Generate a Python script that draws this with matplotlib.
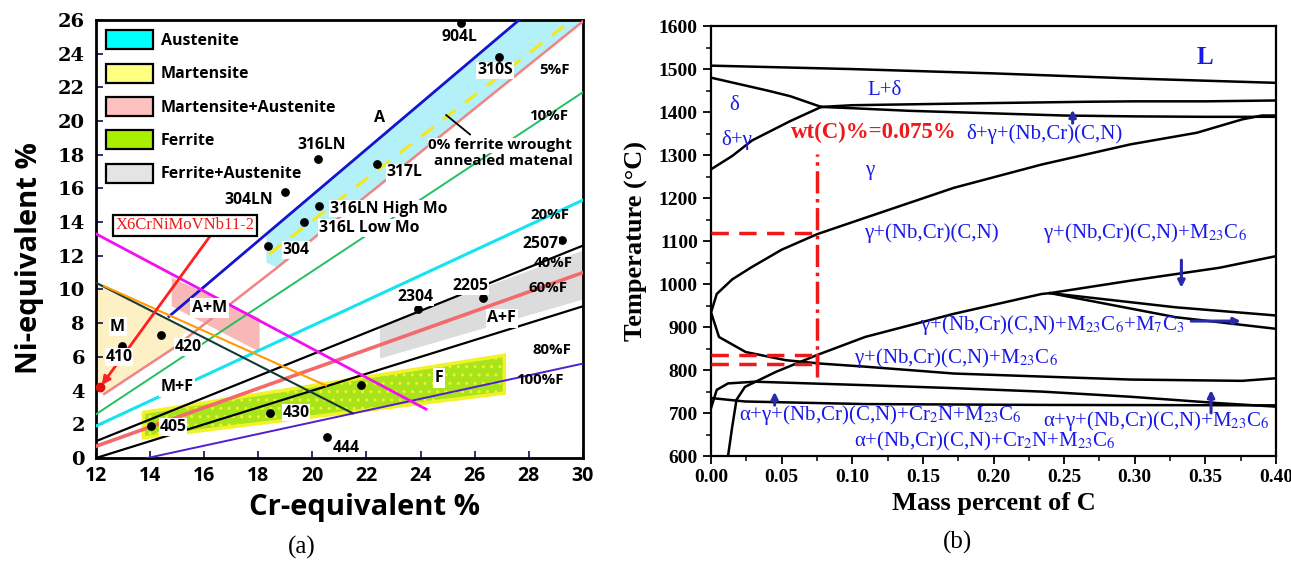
import numpy as np
import matplotlib
matplotlib.use('Agg')
import matplotlib.pyplot as plt
from matplotlib.patches import Polygon, Patch

plt.rcParams['mathtext.fontset'] = 'stix'

# ---------------- (a) Schaeffler-type diagram data ----------------
# boundary / iso-ferrite lines: (Cr-eq list, Ni-eq list)
a_line = ([14.7, 27.65], [8.4, 26.0])
f5_line = ([12.3, 14.85, 18.7, 30.0], [3.8, 6.5, 11.3, 25.9])
f10_line = ([12.0, 30.0], [2.6, 21.7])
f20_line = ([12.0, 30.0], [1.9, 15.3])
f40_line = ([12.0, 30.0], [1.0, 12.6])
f60_line = ([12.0, 30.0], [0.7, 11.0])
f80_line = ([12.0, 30.0], [0.0, 9.0])
f100_line = ([13.9, 30.0], [0.0, 5.6])
ms_line = ([12.0, 24.2], [13.3, 2.9])
mf_line = ([12.0, 21.5], [10.4, 2.65])
orange_line = ([12.3, 20.5], [10.2, 4.3])
zero_ferrite_line = ([18.4, 29.6], [12.1, 26.0])

# shaded phase fields (polygons)
austenite_band = [(18.3, 13.3), (27.65, 26.0), (30.0, 26.0), (30.0, 25.9), (18.7, 11.3), (18.3, 11.6)]
martensite_area = [(12.0, 10.4), (15.4, 7.63), (14.85, 6.5), (12.3, 3.8), (12.0, 3.8)]
am_area = [(14.8, 10.7), (18.05, 8.3), (18.05, 6.3), (14.8, 9.0)]
fa_area = [(22.5, 7.8), (30.0, 12.3), (30.0, 9.4), (22.5, 5.9)]
ferrite_area = [(13.75, 2.7), (27.1, 6.1), (27.1, 3.85), (13.75, 1.2)]

# steel grades
grade_names = ['904L', '310S', '316LN', '317L', '304LN', '316LN High Mo', '316L Low Mo',
               '304', '2507', '2304', '2205', '410', '420', '405', '430', '444', '']
grade_cr = [25.5, 26.9, 20.2, 22.4, 19.0, 20.25, 19.7, 18.35, 29.25, 23.9, 26.3, 12.95, 14.4,
            14.05, 18.45, 20.55, 21.8]
grade_ni = [25.8, 23.8, 17.75, 17.45, 15.8, 14.95, 14.0, 12.6, 12.95, 8.85, 9.5, 6.65, 7.3,
            1.9, 2.7, 1.25, 4.35]
label_cr = [25.45, 26.75, 20.35, 22.75, 18.55, 20.65, 20.25, 18.9, 29.1, 23.8, 25.85, 12.85,
            14.9, 14.35, 18.9, 20.75, 21.8]
label_ni = [25.0, 23.0, 18.55, 16.95, 15.3, 14.8, 13.65, 12.35, 12.7, 9.55, 10.2, 6.0, 6.6,
            1.85, 2.7, 0.6, 4.35]
label_ha = ['center', 'center', 'center', 'left', 'right', 'left', 'left', 'left', 'right',
            'center', 'center', 'center', 'left', 'left', 'left', 'left', 'center']

x6_point = (12.15, 4.2)
x6_label = (15.3, 13.8)

field_names = ['A', 'A+M', 'M', 'M+F', 'A+F', 'F']
field_cr = [22.5, 16.2, 12.8, 15.0, 27.0, 24.7]
field_ni = [20.2, 8.9, 7.8, 4.2, 8.3, 4.75]

pct_names = ['5%F', '10%F', '20%F', '40%F', '60%F', '80%F', '100%F']
pct_cr = [28.4, 28.0, 28.05, 28.2, 28.0, 28.15, 27.55]
pct_ni = [23.0, 20.3, 14.4, 11.6, 10.1, 6.4, 4.6]

legend_names = ['Austenite', 'Martensite', 'Martensite+Austenite', 'Ferrite', 'Ferrite+Austenite']
legend_colors = ['#00FFFF', '#FFFF80', '#FFC0C0', '#A8F000', '#E4E4E4']

# ---------------- (b) phase diagram data ----------------
liq_c = [0.0, 0.1, 0.2, 0.3, 0.4]
liq_t = [1508, 1500, 1490, 1478, 1468]
delta_c = [0.0, 0.02, 0.04, 0.056, 0.078, 0.1, 0.14, 0.2, 0.25, 0.3, 0.35, 0.4]
delta_t = [1480, 1465, 1450, 1437, 1412, 1409, 1403, 1397, 1392, 1390, 1389, 1389]
ld_c = [0.078, 0.1, 0.14, 0.2, 0.266, 0.3, 0.35, 0.4]
ld_t = [1412, 1416, 1418, 1421, 1424, 1425, 1425, 1427]
dg_c = [0.0, 0.015, 0.029, 0.056, 0.078]
dg_t = [1267, 1298, 1334, 1379, 1412]
cn_c = [0.4, 0.39, 0.376, 0.344, 0.297, 0.234, 0.172, 0.109, 0.075, 0.05, 0.028, 0.015, 0.004, 0.0,
        0.0056, 0.0245, 0.053, 0.078, 0.109, 0.172, 0.234, 0.297, 0.376, 0.4]
cn_t = [1392, 1392, 1383, 1352, 1325, 1278, 1224, 1154, 1116, 1080, 1038, 1011, 977, 934,
        877, 842, 823, 815, 808, 792, 785, 778, 775, 781]
m23_c = [0.012, 0.015, 0.018, 0.024, 0.046, 0.075, 0.109, 0.172, 0.234, 0.24, 0.297, 0.36, 0.4]
m23_t = [600, 669, 731, 761, 796, 835, 877, 931, 977, 979, 1008, 1038, 1065]
m7a_c = [0.24, 0.329, 0.4]
m7a_t = [979, 946, 927]
m7b_c = [0.24, 0.329, 0.4]
m7b_t = [979, 923, 896]
ag_c = [0.0, 0.004, 0.012, 0.031, 0.109, 0.172, 0.234, 0.297, 0.36, 0.4]
ag_t = [712, 754, 769, 773, 765, 758, 750, 738, 723, 715]
cr2n_c = [0.0, 0.024, 0.109, 0.234, 0.4]
cr2n_t = [735, 727, 721, 719, 718]

wt_c = 0.075
t_mark = [1118, 836, 814]

phase_labels = ['L', 'L+δ', 'δ', 'δ+γ', 'γ', 'δ+γ+(Nb,Cr)(C,N)', 'γ+(Nb,Cr)(C,N)',
                'γ+(Nb,Cr)(C,N)+M$_{23}$C$_6$',
                'γ+(Nb,Cr)(C,N)+M$_{23}$C$_6$+M$_7$C$_3$',
                'γ+(Nb,Cr)(C,N)+M$_{23}$C$_6$',
                'α+γ+(Nb,Cr)(C,N)+Cr$_2$N+M$_{23}$C$_6$',
                'α+γ+(Nb,Cr)(C,N)+M$_{23}$C$_6$',
                'α+(Nb,Cr)(C,N)+Cr$_2$N+M$_{23}$C$_6$']
phase_c = [0.344, 0.111, 0.013, 0.007, 0.109, 0.181, 0.108, 0.235, 0.148, 0.101, 0.020, 0.235, 0.101]
phase_t = [1526, 1450, 1416, 1334, 1263, 1348, 1118, 1118, 904, 827, 696, 682, 635]
phase_bold = [True, False, False, False, False, False, False, False, False, False, False, False, False]

# blue arrows: (start c, start T, end c, end T)
arrows = [(0.256, 1368, 0.256, 1412), (0.333, 1062, 0.333, 985), (0.338, 914, 0.377, 914),
          (0.045, 712, 0.045, 756), (0.354, 694, 0.354, 760)]

fig = plt.figure(figsize=(12.91, 5.61), dpi=100)

# ================= panel (a) =================
ax = fig.add_axes([0.0744, 0.1836, 0.377, 0.781])
ax.set_xlim(12, 30)
ax.set_ylim(0, 26)

ax.add_patch(Polygon(austenite_band, closed=True, facecolor='#B4F0F8', edgecolor='none', zorder=1))
ax.add_patch(Polygon(martensite_area, closed=True, facecolor='#FCF0C4', edgecolor='none', zorder=1))
ax.add_patch(Polygon(am_area, closed=True, facecolor='#F8B8B8', edgecolor='none', zorder=1))
ax.add_patch(Polygon(fa_area, closed=True, facecolor='#DCDCDC', edgecolor='none', zorder=1))
ax.add_patch(Polygon(ferrite_area, closed=True, facecolor='#A8E41C', edgecolor='#F2F22A',
                     linewidth=2.5, hatch='..', zorder=1))

line_specs = [
    (f80_line, 'black', 1.6, '-'),
    (f60_line, '#F46A6A', 2.6, '-'),
    (f40_line, 'black', 1.6, '-'),
    (f20_line, '#14E4F0', 2.2, '-'),
    (f10_line, '#22C060', 1.4, '-'),
    (f5_line, '#F08484', 1.8, '-'),
    (f100_line, '#5020D0', 1.4, '-'),
    (a_line, '#1414D0', 2.0, '-'),
    (mf_line, '#183838', 1.5, '-'),
    (orange_line, '#FF9A00', 1.5, '-'),
    (ms_line, '#F010F0', 2.0, '-'),
]
for (xs, ys), c, lw, ls in line_specs:
    ax.plot(xs, ys, color=c, lw=lw, ls=ls, zorder=3)
ax.plot(zero_ferrite_line[0], zero_ferrite_line[1], color='#F4E81A', lw=2.2,
        dashes=(5, 4), zorder=3)

# X6CrNiMoVNb11-2 marker
ax.plot(*x6_point, 'o', color='#E01010', ms=6, zorder=6)
ax.annotate('', xy=x6_point, xytext=(16.3, 13.35),
            arrowprops=dict(arrowstyle='-|>', color='#FF2020', lw=2, mutation_scale=12), zorder=6)
ax.text(x6_label[0], x6_label[1], 'X6CrNiMoVNb11-2', color='#F01818', fontsize=12,
        family='Liberation Serif', ha='center', va='center', zorder=7,
        bbox=dict(boxstyle='square,pad=0.15', facecolor='white', edgecolor='black', lw=1.6))

# grades
ax.scatter(grade_cr, grade_ni, s=28, color='black', zorder=6)
for name, lx, ly, ha in zip(grade_names, label_cr, label_ni, label_ha):
    if name:
        ax.text(lx, ly, name, fontsize=11.3, fontweight='bold', family='Open Sans',
                ha=ha, va='center', zorder=7,
                bbox=dict(boxstyle='square,pad=0.05', facecolor='white', edgecolor='none'))

for name, fx, fy in zip(field_names, field_cr, field_ni):
    ax.text(fx, fy, name, fontsize=11.5, fontweight='bold', family='Open Sans',
            ha='center', va='center', zorder=7,
            bbox=dict(boxstyle='square,pad=0.1', facecolor='white', edgecolor='none'))

for name, px_, py_ in zip(pct_names, pct_cr, pct_ni):
    ax.text(px_, py_, name, fontsize=10.8, fontweight='bold', family='Open Sans',
            ha='left', va='center', zorder=7)

ax.plot([25.83, 24.95], [19.2, 20.35], color='black', lw=1.3, zorder=7)
ax.text(26.95, 18.55, '0% ferrite wrought', fontsize=11, fontweight='bold', family='Open Sans',
        ha='center', va='center', zorder=7,
        bbox=dict(boxstyle='square,pad=0.05', facecolor='white', edgecolor='none'))
ax.text(27.05, 17.6, 'annealed matenal', fontsize=11, fontweight='bold', family='Open Sans',
        ha='center', va='center', zorder=7)

handles = [Patch(facecolor=c, edgecolor='black', lw=1.6) for c in legend_colors]
ax.legend(handles, legend_names, loc='upper left', frameon=False, handlelength=2.9,
          handleheight=1.45, labelspacing=0.9, borderaxespad=0.1, borderpad=0.55,
          handletextpad=0.5, prop=dict(family='Open Sans', weight='bold', size=11.5))

ax.set_xticks(np.arange(12, 31, 2))
ax.set_yticks(np.arange(0, 27, 2))
ax.tick_params(direction='in', length=5, width=1.3, color='#202060')
ax.tick_params(axis='y', pad=8)
ax.tick_params(axis='x', pad=6)
for lab in ax.get_yticklabels():
    lab.set_family('DejaVu Serif')
    lab.set_fontweight('bold')
    lab.set_fontsize(14)
for lab in ax.get_xticklabels():
    lab.set_family('Open Sans')
    lab.set_fontweight('bold')
    lab.set_fontsize(14)
for sp in ax.spines.values():
    sp.set_linewidth(2)
ax.set_xlabel('Cr-equivalent %', fontsize=21, fontweight='bold', family='Open Sans')
ax.set_ylabel('Ni-equivalent %', fontsize=21, fontweight='bold', family='Open Sans')
ax.xaxis.set_label_coords(0.552, -0.08)
ax.yaxis.set_label_coords(-0.107, 0.457)

# ================= panel (b) =================
bx = fig.add_axes([0.5508, 0.187, 0.4376, 0.7665])
bx.set_xlim(0, 0.4)
bx.set_ylim(600, 1600)

for xs, ys in [(liq_c, liq_t), (delta_c, delta_t), (ld_c, ld_t), (dg_c, dg_t), (cn_c, cn_t),
               (m23_c, m23_t), (m7a_c, m7a_t), (m7b_c, m7b_t), (ag_c, ag_t), (cr2n_c, cr2n_t)]:
    bx.plot(xs, ys, color='black', lw=1.8, zorder=3)

red = '#F01818'
bx.plot([wt_c, wt_c], [785, 1302], color=red, lw=2.5, ls='-.', zorder=4)
for tm in t_mark:
    bx.plot([0, wt_c], [tm, tm], color=red, lw=2.5, ls=(0, (5, 3)), zorder=4)
bx.plot([wt_c, wt_c], [t_mark[2], t_mark[1]], color=red, lw=2.5, zorder=4)
bx.text(0.115, 1352, 'wt(C)%=0.075%', color=red, fontsize=16.5, fontweight='bold',
        family='Liberation Serif', ha='center', va='center', zorder=5)

for name, c, t, b in zip(phase_labels, phase_c, phase_t, phase_bold):
    bx.text(c, t, name, color='#1A1AE6', fontsize=18 if b else 15, family='Liberation Serif',
            fontweight='bold' if b else 'normal', ha='left', va='center', zorder=5)

for c0, t0, c1, t1 in arrows:
    bx.annotate('', xy=(c1, t1), xytext=(c0, t0),
                arrowprops=dict(arrowstyle='-|>', color='#2A2AA8', lw=2.2, mutation_scale=10),
                zorder=5)

bx.set_xticks(np.arange(0, 0.401, 0.05))
bx.set_xticks(np.arange(0.025, 0.4, 0.05), minor=True)
bx.set_yticks(np.arange(600, 1601, 100))
bx.set_yticks(np.arange(650, 1600, 100), minor=True)
bx.tick_params(which='major', direction='out', length=6, width=1.3)
bx.tick_params(which='minor', direction='out', length=3.5, width=1.1)
bx.set_xticklabels(['%.2f' % v for v in np.arange(0, 0.401, 0.05)])
for lab in bx.get_xticklabels() + bx.get_yticklabels():
    lab.set_family('Liberation Serif')
    lab.set_fontweight('bold')
    lab.set_fontsize(14)
for sp in bx.spines.values():
    sp.set_linewidth(1.6)
bx.set_xlabel('Mass percent of C', fontsize=19, fontweight='bold', family='Liberation Serif',
              labelpad=4)
bx.set_ylabel('Temperature (°C)', fontsize=19, fontweight='bold', family='Liberation Serif',
              labelpad=8)

fig.text(0.234, 0.025, '(a)', fontsize=18, family='Liberation Serif', ha='center', va='center')
fig.text(0.742, 0.033, '(b)', fontsize=18, family='Liberation Serif', ha='center', va='center')

fig.savefig('out.png', dpi=100)
